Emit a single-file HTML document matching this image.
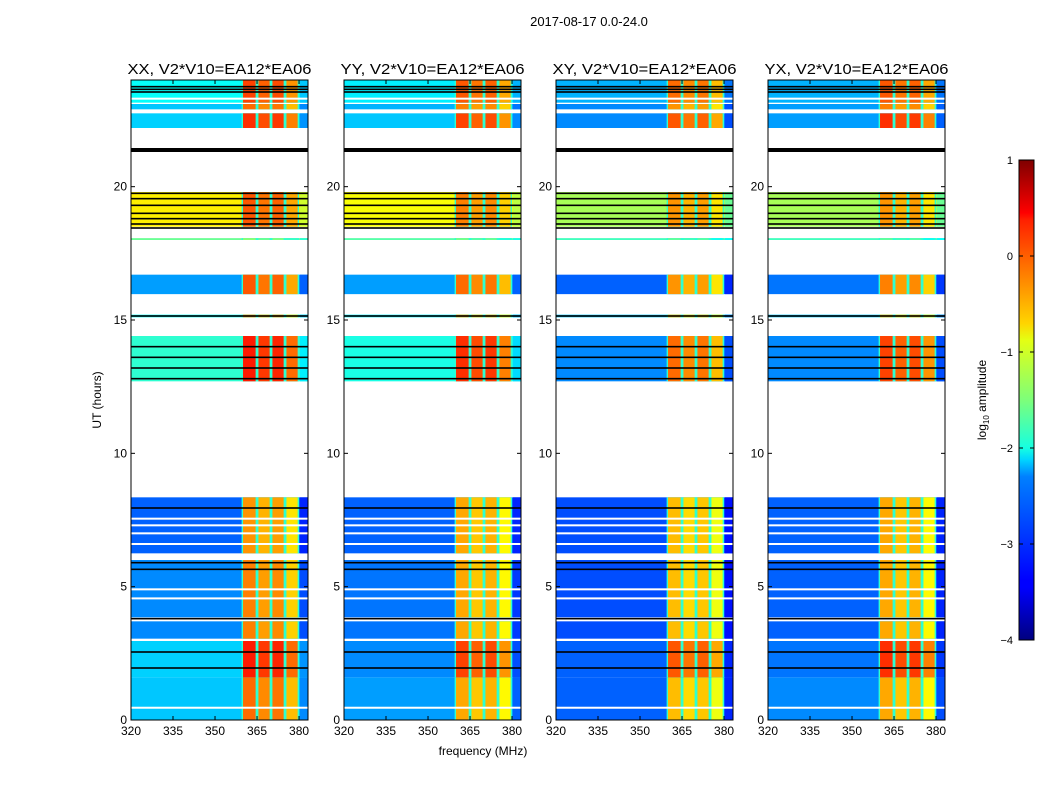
<!DOCTYPE html>
<html><head><meta charset="utf-8">
<style>
html,body{margin:0;padding:0;background:#fff;}
svg{display:block;font-family:"Liberation Sans","DejaVu Sans",sans-serif;}
</style></head>
<body>
<svg id="fig" width="1050" height="800" viewBox="0 0 1050 800">
<defs>
<linearGradient id="jet" x1="0" y1="1" x2="0" y2="0">
<stop offset="0" stop-color="#00007f"/><stop offset="0.11" stop-color="#0000ff"/>
<stop offset="0.125" stop-color="#0000ff"/><stop offset="0.34" stop-color="#0080ff"/>
<stop offset="0.375" stop-color="#00d4ff"/><stop offset="0.40" stop-color="#16ffe1"/>
<stop offset="0.5" stop-color="#7dff7a"/><stop offset="0.625" stop-color="#e4ff13"/>
<stop offset="0.66" stop-color="#ffd400"/><stop offset="0.875" stop-color="#ff2000"/>
<stop offset="0.89" stop-color="#ff0000"/><stop offset="1" stop-color="#7f0000"/>
</linearGradient>
</defs>
<text x="589" y="26" font-size="13" text-anchor="middle">2017-08-17 0.0-24.0</text>
<g id="panels"></g>
<text x="483" y="755" font-size="12" text-anchor="middle">frequency (MHz)</text>
<text transform="translate(101,400) rotate(-90)" font-size="12" text-anchor="middle">UT (hours)</text>
<g>
<rect x="1019" y="160" width="15" height="480" fill="url(#jet)" stroke="#000" stroke-width="1"/>
<g id="cbticks"></g>
<text transform="translate(986,400) rotate(-90)" font-size="12" text-anchor="middle">log<tspan font-size="8" dy="3">10</tspan><tspan dy="-3"> amplitude</tspan></text>
</g>
</svg>
<script>
// ---- data ----
const panelTitles = ["XX, V2*V10=EA12*EA06","YY, V2*V10=EA12*EA06","XY, V2*V10=EA12*EA06","YX, V2*V10=EA12*EA06"];
const segStart = [0.0, 1.6, 3.05, 3.85, 6.25, 12.7, 15.1, 15.97, 18.0, 18.5, 22.2, 22.9, 23.15];
const segEnd   = [1.6, 3.0, 3.7, 6.0, 8.35, 14.4, 15.2, 16.7, 18.07, 19.8, 22.75, 23.1, 24.0];
const lowXX  = [-2.4,-2.35,-2.7,-2.7,-2.9,-1.9,-2.1,-2.6,-1.6,-0.8,-2.35,-2.4,-2.1];
const highXX = [-0.3, 0.1,-0.4,-0.4,-0.5, 0.1,-0.5,-0.2,-1.6,-0.2, 0.0,-0.3,-0.1];
const lowYY  = [-2.6,-2.7,-2.8,-2.8,-2.9,-2.0,-2.2,-2.6,-1.7,-0.9,-2.4,-2.5,-2.2];
const highYY = [-0.6,-0.1,-0.6,-0.6,-0.6, 0.0,-0.6,-0.3,-1.7,-0.4,-0.1,-0.4,-0.2];
const lowXY  = [-2.9,-2.9,-3.0,-3.0,-3.0,-2.7,-2.4,-2.9,-1.8,-1.3,-2.7,-2.7,-2.5];
const highXY = [-0.7,-0.2,-0.7,-0.7,-0.7,-0.3,-0.7,-0.5,-1.8,-0.5,-0.2,-0.5,-0.3];
const lowYX  = [-2.7,-2.8,-2.9,-2.9,-2.9,-2.7,-2.4,-2.8,-1.8,-1.3,-2.6,-2.6,-2.5];
const highYX = [-0.6, 0.0,-0.6,-0.6,-0.6,-0.1,-0.7,-0.4,-1.8,-0.5, 0.0,-0.4,-0.2];
const lowLevels = [lowXX, lowYY, lowXY, lowYX];
const highLevels = [highXX, highYY, highXY, highYX];
const bandStartMHz = [360, 365.5, 370.5, 375.5];
const bandEndMHz   = [364.5, 369.5, 374.5, 379.5];
const bandOffset   = [0.15, 0.0, 0.1, -0.25];
const whiteLines = [0.46, 3.0, 4.56, 4.9, 6.6, 7.0, 7.3, 7.55, 23.3];
const blackLines = [1.95, 2.55, 3.8, 5.65, 5.9, 7.95, 12.8, 13.2, 13.6, 14.0, 15.15, 18.45, 18.6, 18.8, 19.0, 19.3, 19.55, 19.75, 21.42, 23.55, 23.65, 23.75];
const xTicks = [320, 335, 350, 365, 380];
const yTicks = [0, 5, 10, 15, 20];
const cbTicks = [1, 0, -1, -2, -3, -4];

// ---- layout ----
const panelLeft = [131, 344, 556, 768];
const panelW = 177, plotTop = 80, plotBottom = 720;
const fMin = 320, fMax = 383.2, tMin = 0, tMax = 24;
const NS = "http://www.w3.org/2000/svg";
function jet(v){
  let n = Math.max(0, Math.min(1, (v + 4) / 5));
  const c = x => Math.round(255 * Math.max(0, Math.min(1, 1.5 - Math.abs(4 * n - x))));
  return `rgb(${c(3)},${c(2)},${c(1)})`;
}
function mk(tag, attrs, parent){ const e = document.createElementNS(NS, tag); for (const k in attrs) e.setAttribute(k, attrs[k]); parent.appendChild(e); return e; }
const root = document.getElementById('panels');
panelTitles.forEach((title, p) => {
  const x0 = panelLeft[p];
  const xs = f => x0 + (f - fMin) / (fMax - fMin) * panelW;
  const ys = t => plotBottom - (t - tMin) / (tMax - tMin) * (plotBottom - plotTop);
  const g = mk('g', {}, root);
  
  
  segStart.forEach((s, i) => {
    const y1 = ys(segEnd[i]), y2 = ys(s);
    const r = mk('rect', {x: x0, y: y1, width: panelW, height: y2 - y1, fill: jet(lowLevels[p][i])}, g);
    
    
    const sep = mk('rect', {x: xs(bandStartMHz[0] - 0.5), y: y1, width: xs(bandEndMHz[3] + 0.5) - xs(bandStartMHz[0] - 0.5), height: y2 - y1, fill: jet(-1.9)}, g);
    
    
    bandStartMHz.forEach((b, k) => {
      const br = mk('rect', {x: xs(b), y: y1, width: xs(bandEndMHz[k]) - xs(b), height: y2 - y1, fill: jet(highLevels[p][i] + bandOffset[k])}, g);
      
      
    });
    const edge = mk('rect', {x: xs(380.3), y: y1, width: x0 + panelW - xs(380.3), height: y2 - y1, fill: jet(lowLevels[p][i] - 0.3)}, g);
    
    
  });
  whiteLines.forEach(t => {
    const l = mk('rect', {x: x0, y: ys(t) - 1, width: panelW, height: 2, fill: '#fff'}, g);
    
    
  });
  blackLines.forEach(t => {
    const l = mk('rect', {x: x0, y: ys(t) - 0.8, width: panelW, height: t > 21 && t < 22 ? 4 : 1.6, fill: '#000'}, g);
    
    
  });
  const fr = mk('rect', {x: x0, y: plotTop, width: panelW, height: plotBottom - plotTop, fill: 'none', stroke: '#000', 'stroke-width': 1}, g);
  
  
  const tt = mk('text', {x: x0 + panelW / 2, y: plotTop - 6, 'font-size': 15, 'text-anchor': 'middle', textLength: 184, lengthAdjust: 'spacingAndGlyphs'}, g);
  tt.textContent = title;
  
  
  xTicks.forEach(f => {
    mk('line', {x1: xs(f), x2: xs(f), y1: plotBottom, y2: plotBottom - 4, stroke: '#000'}, g);
    mk('line', {x1: xs(f), x2: xs(f), y1: plotTop, y2: plotTop + 4, stroke: '#000'}, g);
    const t = mk('text', {x: xs(f), y: plotBottom + 15, 'font-size': 12, 'text-anchor': 'middle'}, g);
    t.textContent = f;
    
    
  });
  yTicks.forEach(v => {
    mk('line', {x1: x0, x2: x0 + 4, y1: ys(v), y2: ys(v), stroke: '#000'}, g);
    mk('line', {x1: x0 + panelW, x2: x0 + panelW - 4, y1: ys(v), y2: ys(v), stroke: '#000'}, g);
    const t = mk('text', {x: x0 - 4, y: ys(v) + 4, 'font-size': 12, 'text-anchor': 'end'}, g);
    t.textContent = v;
    
    
  });
});
const cb = document.getElementById('cbticks');
cbTicks.forEach(v => {
  const y = 160 + (1 - v) / 5 * 480;
  mk('line', {x1: 1019, x2: 1023, y1: y, y2: y, stroke: '#000'}, cb);
  mk('line', {x1: 1034, x2: 1030, y1: y, y2: y, stroke: '#000'}, cb);
  const t = mk('text', {x: 1013, y: y + 4, 'font-size': 11, 'text-anchor': 'end'}, cb);
  t.textContent = v < 0 ? '\u2212' + (-v) : String(v);
  
  
});
</script>
</body></html>
